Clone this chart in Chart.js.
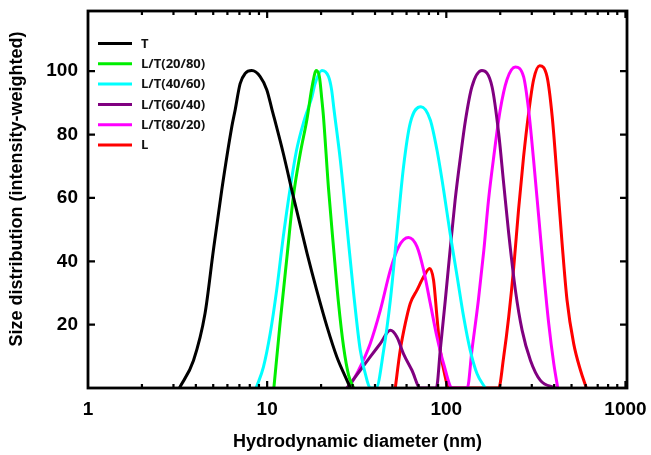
<!DOCTYPE html>
<html>
<head>
<meta charset="utf-8">
<script src="https://cdn.jsdelivr.net/npm/chart.js@4.4.1/dist/chart.umd.min.js"></script>
<style>
  html, body { margin: 0; padding: 0; background: #fff; }
  #wrap { width: 651px; height: 455px; }
</style>
</head>
<body>
<div id="wrap"><canvas id="c" width="651" height="455"></canvas></div>
<script>
// ---- data (hydrodynamic diameter in nm, size distribution intensity-weighted) ----
const seriesLabels = ['T', 'L/T(20/80)', 'L/T(40/60)', 'L/T(60/40)', 'L/T(80/20)', 'L'];
const seriesColors = ['#000000', '#00ee00', '#00ffff', '#800080', '#ff00ff', '#ff0000'];

const tX = [3.24, 3.88, 4.5, 5.01, 5.58, 6.35, 6.63, 7.06, 7.54, 8.21, 9.14, 9.96, 10.6, 12.3, 14.0, 16.7, 18.9, 21.6, 24.5, 27.9, 29.1];
const tY = [0, 8.7, 23.5, 43.5, 62.5, 82.5, 87.8, 96.0, 99.3, 100.2, 98.3, 94.1, 88.3, 74.1, 60.4, 42.5, 30.9, 19.3, 9.8, 2.4, 0];

const g28X = [10.9, 11.8, 12.9, 14.0, 15.3, 16.7, 17.8, 18.8, 19.6, 20.2, 20.6, 22.0, 23.5, 25.0, 26.7, 28.5, 30.4];
const g28Y = [0, 20.3, 41.4, 60.4, 74, 85, 95, 100.2, 98, 91, 86, 63, 44, 27, 13, 4, 0];

const c46X = [8.68, 9.53, 10.4, 11.3, 12.3, 13.4, 14.6, 16.0, 17.0, 17.8, 18.5, 20.2, 22.0, 22.9, 23.6, 25.6, 27.9, 30.4, 33.1, 36.1, 37.6,
              40.6, 44.7, 48.7, 53.0, 57.7, 62.9, 72.2, 81.4, 88.7, 96.6, 105, 115, 125, 136, 148.5, 165];
const c46Y = [0, 6.6, 17.2, 30.9, 47.7, 62.5, 75.1, 84, 88.5, 92, 96, 100.2, 98.3, 94.1, 88, 72, 50.9, 29.8, 11.9, 2.4, 0,
              0, 11.9, 27.7, 48.8, 69.8, 83.6, 88.8, 84.6, 75.1, 62.5, 48.8, 35.1, 22.4, 11.9, 4.5, 0];

const p64X = [27.9, 33.1, 37.6, 42.8, 48.7, 53.0, 57.7, 64.3, 71.6,
              88, 92.5, 98.7, 105, 112, 120, 128, 139, 158, 180, 196, 209, 223, 243, 265, 295, 335, 406];
const p64Y = [0, 5.6, 9.8, 14, 18.2, 16.1, 10.8, 5.6, 0,
              0, 11.9, 27.7, 43.5, 59.3, 73, 84.6, 95.1, 100.2, 95.1, 80.4, 64.6, 48.8, 30.9, 18.2, 8.7, 2.4, 0];

const m82X = [28.5, 32.4, 37.6, 42.8, 48.7, 54.2, 61.5, 68.6, 74.7, 81.4, 88.7, 96.6, 108,
              131, 139, 151, 162, 172, 184, 200, 218, 243, 270, 288, 307, 328, 350, 373, 398, 419];
const m82Y = [0, 5.6, 14, 24.5, 37.2, 44.6, 47.5, 44.6, 37.2, 26.7, 16.1, 7.7, 0,
              0, 11.9, 27.7, 43.5, 59.3, 73, 87.8, 97.3, 101.3, 98.3, 87.8, 72, 54, 36.1, 20.3, 7.7, 0];

const lX = [51.9, 55.3, 59.0, 62.9, 68.6, 74.7, 80.7, 84.9, 88.7, 92.5, 98.7, 103,
            196, 209, 223, 238, 253, 270, 288, 307, 332, 365, 390, 415, 443, 472, 514, 561, 605];
const lY = [0, 11.9, 20.3, 26.7, 30.9, 35.1, 37.7, 34, 22.4, 11.9, 3.4, 0,
            0, 9.8, 22.4, 38.2, 56.2, 73, 86.7, 97.3, 101.7, 98.3, 85.7, 66.7, 45.6, 27.7, 14, 5.6, 0];

const xMin = 1, xMax = 1020;
const yMin = 0, yMax = 119;
const yTickValues = [20, 40, 60, 80, 100];
const xMajorLabels = [1, 10, 100, 1000];
const xTitle = 'Hydrodynamic diameter (nm)';
const yTitle = 'Size distribution (intensity-weighted)';

const xs = [tX, g28X, c46X, p64X, m82X, lX];
const ys = [tY, g28Y, c46Y, p64Y, m82Y, lY];

const datasets = seriesLabels.map((lab, i) => ({
  label: lab,
  data: xs[i].map((x, k) => ({ x: x, y: ys[i][k] })),
  borderColor: seriesColors[i],
  backgroundColor: seriesColors[i],
  borderWidth: 3,
  pointRadius: 0,
  fill: false,
  tension: 0.4,
  cubicInterpolationMode: 'monotone',
  borderJoinStyle: 'round',
  borderCapStyle: 'round'
}));

const FONT = '"Liberation Sans", Arial, sans-serif';

const frameTicks = {
  id: 'frameTicks',
  afterDraw(chart) {
    const ctx = chart.ctx;
    const a = chart.chartArea;
    const xs_ = chart.scales.x, ys_ = chart.scales.y;
    ctx.save();
    ctx.strokeStyle = '#000';
    ctx.lineWidth = 2.2;
    ctx.lineCap = 'butt';
    // x ticks (inward, bottom and top)
    for (let dec = 1; dec < xMax; dec *= 10) {
      for (let m = 1; m <= 9; m++) {
        const v = dec * m;
        if (v <= xMin || v >= xMax) continue;
        const px = xs_.getPixelForValue(v);
        const len = (m === 1) ? 7 : 4;
        ctx.beginPath();
        ctx.moveTo(px, a.bottom); ctx.lineTo(px, a.bottom - len);
        ctx.moveTo(px, a.top); ctx.lineTo(px, a.top + len);
        ctx.stroke();
      }
    }
    // y ticks (inward, left and right)
    yTickValues.forEach(v => {
      const py = ys_.getPixelForValue(v);
      ctx.beginPath();
      ctx.moveTo(a.left, py); ctx.lineTo(a.left + 7, py);
      ctx.moveTo(a.right, py); ctx.lineTo(a.right - 7, py);
      ctx.stroke();
    });
    // frame
    ctx.lineWidth = 2.8;
    ctx.strokeRect(a.left, a.top, a.right - a.left, a.bottom - a.top);
    // y axis title
    ctx.save();
    ctx.translate(17, 189);
    ctx.rotate(-Math.PI / 2);
    ctx.font = 'bold 18px ' + FONT;
    ctx.fillStyle = '#000';
    ctx.textAlign = 'center';
    ctx.textBaseline = 'middle';
    ctx.fillText(yTitle, 0, 0);
    ctx.restore();
    // legend
    ctx.font = 'bold 13px "Open Sans", "Liberation Sans", sans-serif';
    ctx.textBaseline = 'middle';
    ctx.textAlign = 'left';
    chart.data.datasets.forEach((ds, i) => {
      const y = 43.5 + i * 20.3;
      ctx.strokeStyle = ds.borderColor;
      ctx.lineWidth = 3;
      ctx.beginPath();
      ctx.moveTo(98, y); ctx.lineTo(132, y);
      ctx.stroke();
      ctx.fillStyle = '#111';
      ctx.fillText(ds.label, 141, y + 0.5);
    });
    ctx.restore();
  }
};

new Chart(document.getElementById('c'), {
  type: 'line',
  data: { datasets: datasets },
  options: {
    responsive: false,
    animation: false,
    events: [],
    layout: { padding: { left: 0, right: 24, top: 11, bottom: 0 } },
    plugins: { legend: { display: false }, tooltip: { enabled: false } },
    scales: {
      x: {
        type: 'logarithmic',
        min: xMin, max: xMax,
        grid: { display: false, drawTicks: false },
        border: { display: false },
        afterFit: s => { s.height = 67; s.paddingLeft = 0; s.paddingRight = 0; },
        afterBuildTicks: s => { s.ticks = xMajorLabels.map(v => ({ value: v })); },
        ticks: {
          autoSkip: false, maxRotation: 0, padding: 10,
          color: '#000',
          font: { family: FONT, size: 19, weight: 'bold' },
          callback: v => (xMajorLabels.includes(v) ? String(v) : '')
        },
        title: {
          display: true, text: xTitle, color: '#000',
          font: { family: FONT, size: 18, weight: 'bold' },
          padding: { top: 0, bottom: 2 }
        }
      },
      y: {
        type: 'linear',
        min: yMin, max: yMax,
        grid: { display: false, drawTicks: false },
        border: { display: false },
        afterFit: s => { s.width = 88; s.paddingTop = 0; s.paddingBottom = 0; },
        afterBuildTicks: s => { s.ticks = yTickValues.map(v => ({ value: v })); },
        ticks: {
          padding: 10, color: '#000',
          font: { family: FONT, size: 19, weight: 'bold' }
        },
        title: { display: false }
      }
    }
  },
  plugins: [frameTicks]
});
</script>
</body>
</html>
